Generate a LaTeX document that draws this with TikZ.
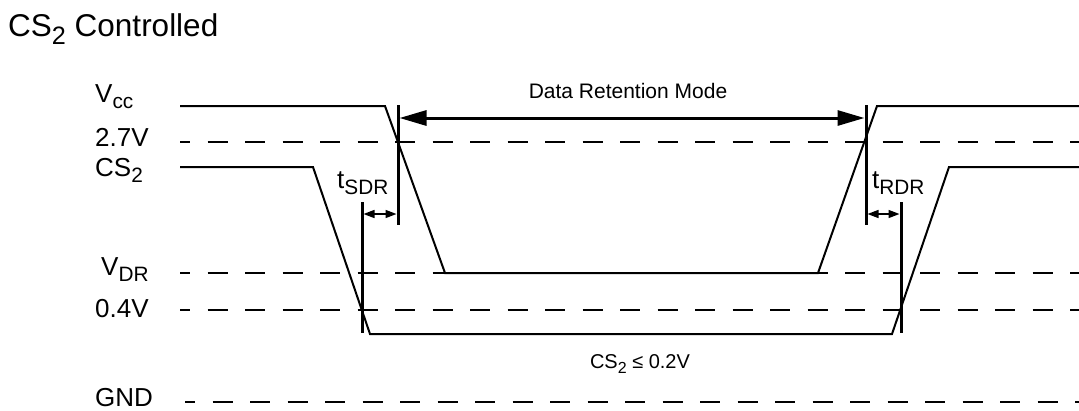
\documentclass[tikz,border=0pt]{standalone}
\usepackage{fontspec}
\setmainfont{Liberation Sans}
\usetikzlibrary{arrows.meta}
\newcommand\lowtext[1]{\raisebox{-0.5ex}{\scalebox{0.8}{#1}}}
\begin{document}
\begin{tikzpicture}[x=1pt,y=-1pt,
  wave/.style={line width=2pt, line join=miter},
  marker/.style={line width=3pt},
  refline/.style={line width=2pt, dash pattern=on 20pt off 17.5pt, dash phase=10pt},
  lbl/.style={anchor=base west, inner sep=0pt, font=\fontsize{26}{30}\selectfont},
  small/.style={anchor=base, inner sep=0pt, font=\fontsize{20}{24}\selectfont},
  timing/.style={line width=1.5pt, {Triangle[length=11pt,width=8pt]}-{Triangle[length=11pt,width=8pt]}},
  retention/.style={line width=3pt, {Triangle[length=27pt,width=15pt]}-{Triangle[length=27pt,width=15pt]}, shorten <=1.5pt, shorten >=1.5pt},
]
\useasboundingbox (0,0) rectangle (1079,410);

% title
\node[anchor=base west, inner sep=0pt, font=\fontsize{31.5}{36}\selectfont] (title) at (8,36) {CS\lowtext{2} Controlled};

% left labels
\node[lbl] (lvcc) at (95,102) {V\lowtext{cc}};
\node[lbl] (l27) at (95,146) {2.7V};
\node[lbl] (lcs) at (95,176) {CS\lowtext{2}};
\node[lbl] (lvdr) at (101,275) {V\lowtext{DR}};
\node[lbl] (l04) at (95,317) {0.4V};
\node[lbl] (lgnd) at (95,406) {GND};

% reference dashed lines
\coordinate (d27a) at (180,142); \coordinate (d27b) at (1079,142);
\coordinate (dvdra) at (180,273); \coordinate (dvdrb) at (1079,273);
\coordinate (d04a) at (180,310); \coordinate (d04b) at (1079,310);
\coordinate (dgnda) at (185,402); \coordinate (dgndb) at (1079,402);
\draw[refline] (d27a) -- (d27b);
\draw[refline] (dvdra) -- (dvdrb);
\draw[refline] (d04a) -- (d04b);
\draw[refline] (dgnda) -- (dgndb);

% Vcc waveform
\coordinate (v0) at (180,106);
\coordinate (v1) at (385,106);
\coordinate (v2) at (445,273);
\coordinate (v3) at (818,273);
\coordinate (v4) at (877,106);
\coordinate (v5) at (1079,106);
\draw[wave] (v0) -- (v1) -- (v2) -- (v3) -- (v4) -- (v5);

% CS2 waveform
\coordinate (c0) at (180,167);
\coordinate (c1) at (313,167);
\coordinate (c2) at (370,334);
\coordinate (c3) at (892,334);
\coordinate (c4) at (949,167);
\coordinate (c5) at (1079,167);
\draw[wave] (c0) -- (c1) -- (c2) -- (c3) -- (c4) -- (c5);

% timing markers
\coordinate (sdrRt) at (398,105); \coordinate (sdrRb) at (398,225);
\coordinate (sdrLt) at (362,202); \coordinate (sdrLb) at (362,333);
\coordinate (rdrLt) at (866,105); \coordinate (rdrLb) at (866,225);
\coordinate (rdrRt) at (901,202); \coordinate (rdrRb) at (901,333);
\draw[marker] (sdrRt) -- (sdrRb);
\draw[marker] (sdrLt) -- (sdrLb);
\draw[marker] (rdrLt) -- (rdrLb);
\draw[marker] (rdrRt) -- (rdrRb);

% data retention arrow
\coordinate (drmL) at (398,118);
\coordinate (drmR) at (866,118);
\draw[retention] (drmL) -- (drmR);
\node[anchor=base, inner sep=0pt, font=\fontsize{21}{25}\selectfont] (drm) at (628,98) {Data Retention Mode};

% tSDR / tRDR
\coordinate (sdrA) at (363.5,214);
\coordinate (sdrB) at (396.5,214);
\coordinate (rdrA) at (867.5,214);
\coordinate (rdrB) at (899.5,214);
\draw[timing] (sdrA) -- (sdrB);
\draw[timing] (rdrA) -- (rdrB);
\node[lbl] (tsdr) at (337,188) {t\lowtext{SDR}};
\node[lbl] (trdr) at (872,188) {t\lowtext{RDR}};

% bottom label
\node[small] (cslow) at (640,368) {CS\lowtext{2} ≤ 0.2V};
\end{tikzpicture}
\end{document}
